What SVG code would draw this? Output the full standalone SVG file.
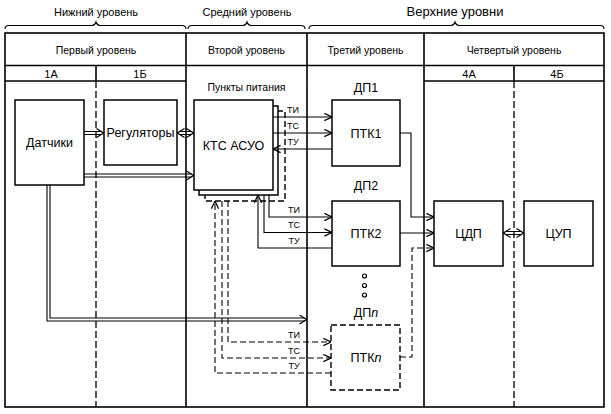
<svg xmlns="http://www.w3.org/2000/svg" width="611" height="414" viewBox="0 0 611 414">
<defs>
<style>
text{font-family:"Liberation Sans",Arial,sans-serif;fill:#000;text-anchor:middle}
.h{font-size:11px}
.hb{font-size:13px}
.c{font-size:10.5px}
.s{font-size:11px}
.p{font-size:10.5px}
.n{font-size:12.5px}
.l{font-size:9px}
.tb{fill:none;stroke:#000;stroke-width:1.6}
.dv{fill:none;stroke:#000;stroke-width:1.3;stroke-dasharray:7 3}
.box{fill:#fff;stroke:#000;stroke-width:1.5}
.dbox{fill:#fff;stroke:#000;stroke-width:1.4;stroke-dasharray:6 3}
.w{fill:none;stroke:#000;stroke-width:1.1}
.wd{fill:none;stroke:#000;stroke-width:1.1;stroke-dasharray:6 3}
.br{fill:none;stroke:#000;stroke-width:1.1}
.ah{fill:none;stroke:none}
.dot{fill:#fff;stroke:#000;stroke-width:1.2}
</style>
<marker id="a" viewBox="0 0 10 10" refX="9.5" refY="5" markerWidth="9" markerHeight="9" markerUnits="userSpaceOnUse" orient="auto-start-reverse">
<path d="M1,1 L9.5,5 L1,9" fill="none" stroke="#000" stroke-width="1.4" stroke-dasharray="none"/>
</marker>
<marker id="b" viewBox="0 0 8 10" refX="8" refY="5" markerWidth="8" markerHeight="10" markerUnits="userSpaceOnUse" orient="auto-start-reverse">
<path d="M0.5,0.6 L7.6,5 L0.5,9.4" fill="none" stroke="#000" stroke-width="1.2"/>
</marker>
</defs>

<g id="levels">
<path class="br" d="M5,29 Q5,25.5 9,25.5 H91 Q95,25.5 96,22 Q97,25.5 101,25.5 H182 Q186,25.5 186,29"/>
<path class="br" d="M188,29 Q188,25.5 192,25.5 H242 Q246,25.5 247,22 Q248,25.5 252,25.5 H301 Q305,25.5 305,29"/>
<path class="br" d="M309,29 Q309,25.5 313,25.5 H450 Q454,25.5 455,22 Q456,25.5 460,25.5 H600 Q604,25.5 604,29"/>
<text class="h" x="96" y="16">Нижний уровень</text>
<text class="h" x="247" y="16">Средний уровень</text>
<text class="hb" x="455" y="16">Верхние уровни</text>
</g>

<g id="table">
<rect class="tb" x="5" y="33" width="599" height="374"/>
<path class="tb" d="M5,65.5H604 M5,81H186 M424,81H604 M186,33V407 M307,33V407 M424,33V407 M96,65.5V81 M514,65.5V81"/>
<path class="dv" d="M96,81V407 M514,81V407"/>
<text class="c" x="96" y="54">Первый уровень</text>
<text class="c" x="246.5" y="54">Второй уровень</text>
<text class="c" x="365.5" y="54">Третий уровень</text>
<text class="c" x="514" y="54">Четвертый уровень</text>
<text class="s" x="51" y="78">1А</text>
<text class="s" x="140" y="78">1Б</text>
<text class="s" x="469" y="78">4А</text>
<text class="s" x="557" y="78">4Б</text>
<text class="p" x="246.5" y="91">Пункты питания</text>
</g>

<g id="datchiki">
<rect class="box" x="15" y="100" width="69" height="85"/>
<text class="n" x="49.5" y="147">Датчики</text>
</g>
<g id="regulyatory">
<rect class="box" x="104" y="100" width="73" height="65"/>
<text class="n" x="140.5" y="137">Регуляторы</text>
</g>
<g id="kts">
<rect class="dbox" x="205" y="111" width="80" height="90"/>
<rect class="box" x="199" y="106" width="79" height="89"/>
<rect class="box" x="194" y="100" width="79" height="90"/>
<text class="n" x="233.5" y="150">КТС АСУО</text>
</g>
<g id="ptk1">
<text class="n" x="366" y="92">ДП1</text>
<rect class="box" x="332" y="100" width="68" height="66"/>
<text class="n" x="366" y="138">ПТК1</text>
</g>
<g id="ptk2">
<text class="n" x="366" y="190">ДП2</text>
<rect class="box" x="332" y="201" width="68" height="65"/>
<text class="n" x="366" y="238">ПТК2</text>
</g>
<g id="ptkn">
<circle class="dot" cx="364.5" cy="276" r="2"/>
<circle class="dot" cx="364.5" cy="285.5" r="2"/>
<circle class="dot" cx="364.5" cy="295" r="2"/>
<text class="n" x="366" y="317">ДП<tspan font-style="italic">n</tspan></text>
<rect class="dbox" x="331" y="325" width="69" height="65"/>
<text class="n" x="366" y="362">ПТК<tspan font-style="italic">n</tspan></text>
</g>
<g id="cdp">
<rect class="box" x="434" y="201" width="69" height="65"/>
<text class="n" x="468.5" y="238">ЦДП</text>
</g>
<g id="cup">
<rect class="box" x="524" y="201" width="69" height="65"/>
<text class="n" x="558.5" y="238">ЦУП</text>
</g>

<g id="connectors">
<path class="w" d="M84,131.5 H101.5 M84,134.5 H101.5"/>
<path class="ah" d="M95,133 H104" marker-end="url(#b)"/>
<path class="w" d="M179.5,131.5 H191.5 M179.5,134.5 H191.5"/>
<path class="ah" d="M177,133 H194" marker-start="url(#b)" marker-end="url(#b)"/>
<path class="w" d="M84,174 H191.5 M84,177 H191.5"/>
<path class="ah" d="M185,175.5 H194" marker-end="url(#b)"/>
<path class="w" d="M47,185 V321 H304.5 M50,185 V318 H304.5"/>
<path class="ah" d="M298,319.5 H307" marker-end="url(#b)"/>
<path class="w" d="M505.5,231.5 H521.5 M505.5,234.5 H521.5"/>
<path class="ah" d="M503,233 H524" marker-start="url(#b)" marker-end="url(#b)"/>

<path class="w" d="M273,117 H332" marker-end="url(#a)"/>
<path class="w" d="M273,133 H332" marker-end="url(#a)"/>
<path class="w" d="M332,149 H273" marker-end="url(#a)"/>
<text class="l" x="293" y="113">ТИ</text>
<text class="l" x="293" y="129">ТС</text>
<text class="l" x="293" y="145">ТУ</text>

<path class="w" d="M269,195 V217 H332" marker-end="url(#a)"/>
<path class="w" d="M264,195 V232.5 H332" marker-end="url(#a)"/>
<path class="w" d="M332,248 H258 V195" marker-end="url(#a)"/>
<text class="l" x="294" y="213">ТИ</text>
<text class="l" x="294" y="228">ТС</text>
<text class="l" x="294" y="244">ТУ</text>

<path class="wd" d="M228,201 V342 H331" marker-end="url(#a)"/>
<path class="wd" d="M222,201 V358 H331" marker-end="url(#a)"/>
<path class="wd" d="M331,373 H215 V201" marker-end="url(#a)"/>
<text class="l" x="294" y="338">ТИ</text>
<text class="l" x="294" y="354">ТС</text>
<text class="l" x="294" y="369">ТУ</text>

<path class="w" d="M400,133 H411 V217 H434" marker-end="url(#a)"/>
<path class="w" d="M400,233 H434" marker-end="url(#a)"/>
<path class="wd" d="M400,357 H412 V248 H434" marker-end="url(#a)"/>
</g>
</svg>
